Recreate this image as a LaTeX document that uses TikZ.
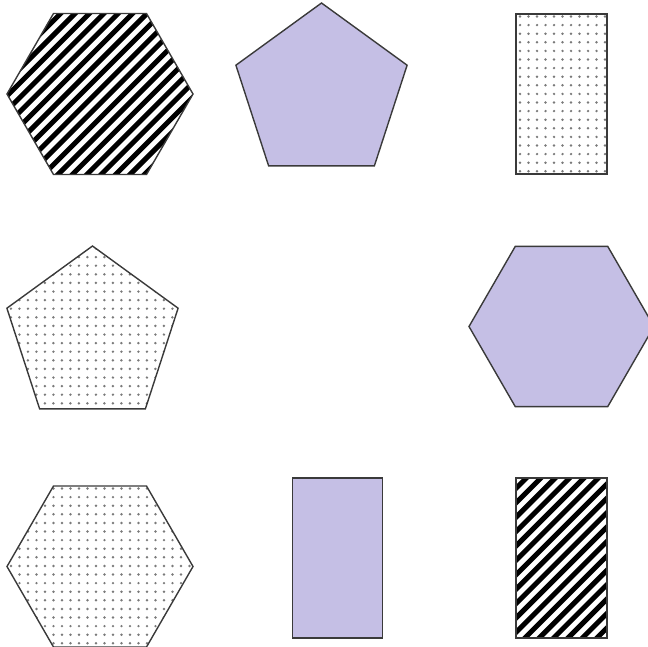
\documentclass[tikz,border=0pt]{standalone}
\definecolor{lav}{HTML}{C5BFE5}
\definecolor{edge}{HTML}{3A3A3A}
\definecolor{dotgray}{HTML}{7A7A7A}
\tikzset{
  shapeline/.style={draw=edge, line width=1.4pt, line join=miter},
  lavfill/.style={shapeline, fill=lav},
  stripeline/.style={black, line width=5pt},
  dotmark/.style={fill=dotgray},
}
% #1 xmin, #2 ymin, #3 xmax, #4 ymax (y grows downward)
\newcommand{\mystripes}[4]{%
  \foreach \i in {0,...,30} {%
    \pgfmathsetmacro\cc{#1+#2-4+\i*14.4}%
    \draw[stripeline] (\cc-#4-12,#4+12) -- (\cc-#2+12,#2-12);
  }%
}
\newcommand{\mydots}[4]{%
  \foreach \i in {0,...,23} {%
    \foreach \j in {0,...,21} {%
      \fill[dotmark] (#1+4+\i*8.5,#2+2.5+\j*8.6) circle[radius=1.35];
    }%
  }%
}
\begin{document}
\begin{tikzpicture}[x=1pt,y=-1pt]
\useasboundingbox (0,0) rectangle (648,646);
\clip (0,0) rectangle (648,646);
% row 1: striped hexagon
\begin{scope}
  \clip (193,94) -- (146.5,13.5) -- (53.5,13.5) -- (7,94) -- (53.5,174.5) -- (146.5,174.5) -- cycle;
  \mystripes{7}{13.5}{193}{174.5}
\end{scope}
\draw[shapeline] (193,94) -- (146.5,13.5) -- (53.5,13.5) -- (7,94) -- (53.5,174.5) -- (146.5,174.5) -- cycle;
% lavender pentagon
\draw[lavfill] (321.5,3) -- (407.1,65.2) -- (374.4,165.8) -- (268.6,165.8) -- (235.9,65.2) -- cycle;
% dotted rectangle
\begin{scope}
  \clip (516,14) rectangle (607,174);
  \mydots{516}{14}{607}{174}
\end{scope}
\draw[shapeline] (516,14) rectangle (607,174);
% row 2: dotted pentagon
\begin{scope}
  \clip (92.5,246) -- (178.1,308.2) -- (145.4,408.8) -- (39.6,408.8) -- (6.9,308.2) -- cycle;
  \mydots{6.9}{246}{178.1}{408.8}
\end{scope}
\draw[shapeline] (92.5,246) -- (178.1,308.2) -- (145.4,408.8) -- (39.6,408.8) -- (6.9,308.2) -- cycle;
% lavender hexagon
\draw[lavfill] (654,326.5) -- (607.75,246.4) -- (515.25,246.4) -- (469,326.5) -- (515.25,406.6) -- (607.75,406.6) -- cycle;
% row 3: dotted hexagon
\begin{scope}
  \clip (193,566.5) -- (146.5,486) -- (53.5,486) -- (7,566.5) -- (53.5,647) -- (146.5,647) -- cycle;
  \mydots{7}{486}{193}{647}
\end{scope}
\draw[shapeline] (193,566.5) -- (146.5,486) -- (53.5,486) -- (7,566.5) -- (53.5,647) -- (146.5,647) -- cycle;
% lavender rectangle
\draw[lavfill] (292.5,478) rectangle (382.5,638);
% striped rectangle
\begin{scope}
  \clip (516,478) rectangle (607,638);
  \mystripes{516}{478}{607}{638}
\end{scope}
\draw[shapeline] (516,478) rectangle (607,638);
\end{tikzpicture}
\end{document}
